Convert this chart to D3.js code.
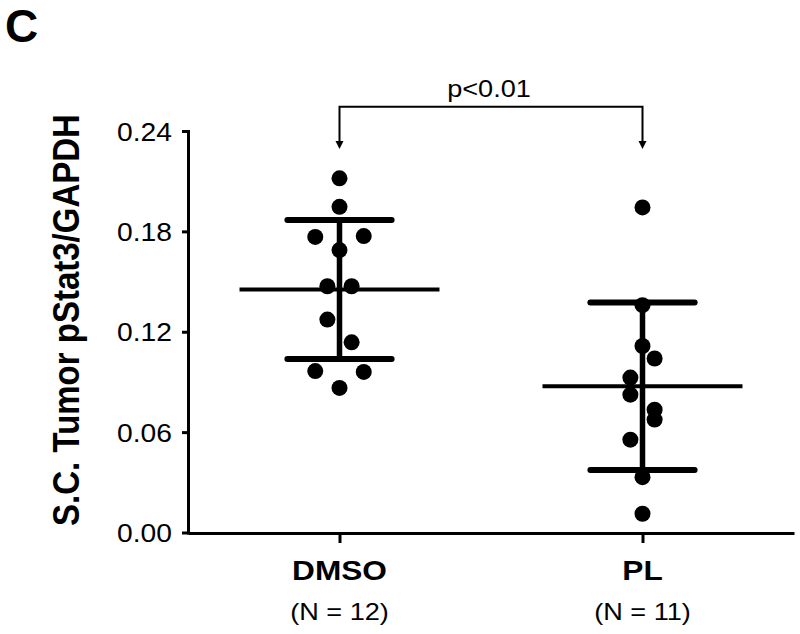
<!DOCTYPE html>
<html><head><meta charset="utf-8">
<script src="https://cdn.jsdelivr.net/npm/d3@7"></script>
<style>body{margin:0;background:#fff;} svg{display:block;}</style>
</head><body><svg id="chart" width="800" height="634"></svg>
<script>
// ---- data ----
const categories = ["DMSO", "PL"];
const sampleSizes = ["(N = 12)", "(N = 11)"];
const dmsoValues = [0.2117, 0.1947, 0.1767, 0.1772, 0.1688, 0.1472, 0.1472, 0.1273, 0.1137, 0.0965, 0.0960, 0.0864];
const dmsoLanes  = [0, 0, -2, 2, 0, -1, 1, -1, 1, -2, 2, 0];
const plValues = [0.1943, 0.1359, 0.1115, 0.1040, 0.0926, 0.0824, 0.0734, 0.0675, 0.0555, 0.0331, 0.0112];
const plLanes  = [0, 0, 0, 1, -1, -1, 1, 1, -1, 0, 0];
const yTicks = [0, 0.06, 0.12, 0.18, 0.24];
const yLabel = "S.C. Tumor pStat3/GAPDH";
const pLabel = "p<0.01";
const panelLabel = "C";

// ---- layout ----
const SX = 1.13;            // horizontal glyph stretch of the original figure
const FONT = "'Liberation Sans', Arial, Helvetica, sans-serif";
const svg = d3.select("#chart");

const x = d3.scalePoint().domain(categories).range([188, 794]).padding(0.5);
const y = d3.scaleLinear().domain([0, 0.24]).range([532.5, 131]);
const laneUnit = x.step() * 0.04;
const lane = d3.scaleLinear().domain([-1, 1]).range([-laneUnit, laneUnit]);

const groups = [
  {name: categories[0], n: sampleSizes[0], values: dmsoValues, lanes: dmsoLanes},
  {name: categories[1], n: sampleSizes[1], values: plValues, lanes: plLanes}
];

function stretchText(parent, txt, tx, ty, size, weight, anchor) {
  return parent.append("text")
    .attr("transform", `translate(${tx},${ty}) scale(${SX},1)`)
    .attr("text-anchor", anchor)
    .attr("font-family", FONT)
    .attr("font-size", size)
    .attr("font-weight", weight)
    .attr("fill", "#000")
    .text(txt);
}

// ---- axes ----
const yAxis = svg.append("g").attr("transform", "translate(188,0)")
  .call(d3.axisLeft(y).tickValues(yTicks).tickSize(6).tickSizeOuter(0).tickFormat(d3.format(".2f")));
yAxis.select(".domain").attr("stroke", "#000").attr("stroke-width", 3).attr("stroke-linecap", "square");
yAxis.selectAll(".tick line").attr("stroke", "#000").attr("stroke-width", 3);
yAxis.selectAll(".tick text")
  .attr("x", null).attr("dy", "0.36em")
  .attr("transform", `translate(-16,0) scale(${SX},1)`)
  .attr("text-anchor", "end")
  .attr("font-family", FONT).attr("font-size", 25).attr("fill", "#000");

const xAxis = svg.append("g").attr("transform", "translate(0,533)")
  .call(d3.axisBottom(x).tickSize(10).tickSizeOuter(0));
xAxis.select(".domain").attr("stroke", "#000").attr("stroke-width", 3);
xAxis.selectAll(".tick line").attr("stroke", "#000").attr("stroke-width", 3);
xAxis.selectAll(".tick text").remove();

// category labels
groups.forEach(g => {
  stretchText(svg, g.name, x(g.name), 580, 28, "bold", "middle");
  stretchText(svg, g.n, x(g.name), 620, 24, "normal", "middle");
});

// y label
svg.append("text")
  .attr("transform", `translate(79,320) scale(${SX},1) rotate(-90)`)
  .attr("text-anchor", "middle")
  .attr("font-family", FONT).attr("font-size", 33).attr("font-weight", "bold")
  .attr("fill", "#000")
  .text(yLabel);

// panel label
svg.append("text").attr("x", 5).attr("y", 42)
  .attr("font-family", FONT).attr("font-size", 46).attr("font-weight", "bold")
  .attr("fill", "#000").text(panelLabel);

// ---- marks ----
const plot = svg.append("g");
groups.forEach(g => {
  const cx = x(g.name);
  const m = d3.mean(g.values);
  const sd = d3.deviation(g.values);
  const half = x.step() * 0.33;
  const cap = x.step() * 0.172;
  // error bar vertical
  plot.append("line").attr("x1", cx).attr("x2", cx)
    .attr("y1", y(m + sd)).attr("y2", y(m - sd))
    .attr("stroke", "#000").attr("stroke-width", 5.5);
  // caps
  [m + sd, m - sd].forEach(v => {
    plot.append("line").attr("x1", cx - cap).attr("x2", cx + cap)
      .attr("y1", y(v)).attr("y2", y(v))
      .attr("stroke", "#000").attr("stroke-width", 6).attr("stroke-linecap", "round");
  });
  // mean
  plot.append("line").attr("x1", cx - half).attr("x2", cx + half)
    .attr("y1", y(m)).attr("y2", y(m))
    .attr("stroke", "#000").attr("stroke-width", 4);
  // dots
  plot.selectAll(null).data(g.values.map((v, i) => ({v, l: g.lanes[i]})))
    .enter().append("circle")
    .attr("cx", d => cx + lane(d.l))
    .attr("cy", d => y(d.v))
    .attr("r", 8)
    .attr("fill", "#000");
});

// ---- significance bracket ----
const bx0 = x(categories[0]), bx1 = x(categories[1]);
const bY = y(0.2545), tipY = y(0.2292);
const ah = 8, aw = 4;
svg.append("path")
  .attr("d", `M${bx0},${tipY - ah}V${bY}H${bx1}V${tipY - ah}`)
  .attr("fill", "none").attr("stroke", "#000").attr("stroke-width", 2);
[bx0, bx1].forEach(bx => {
  svg.append("path")
    .attr("d", `M${bx - aw},${tipY - ah}L${bx + aw},${tipY - ah}L${bx},${tipY}Z`)
    .attr("fill", "#000");
});
stretchText(svg, pLabel, (bx0 + bx1) / 2 - 2, 97, 24, "normal", "middle");
</script>
</body></html>
